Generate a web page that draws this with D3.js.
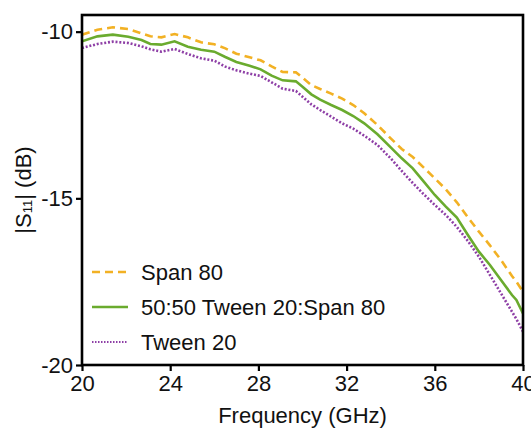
<!DOCTYPE html>
<html>
<head>
<meta charset="utf-8">
<script src="https://cdn.jsdelivr.net/npm/d3@7"></script>
<style>
  body { margin: 0; background: #fff; }
  svg { font-family: "Liberation Sans", Arial, sans-serif; }
</style>
</head>
<body>
<div id="chart"></div>
<script>
// frequency points (GHz)
const freq = [20, 20.7, 21.4, 22.1, 22.7, 23.1, 23.6, 24.2, 24.8, 25.4, 26.0, 26.5, 27.0, 27.6, 28.1, 28.6, 29.1, 29.7, 30.0, 30.4,
  30.8, 31.3, 31.8, 32.3, 32.8, 33.4, 34.0, 34.5, 35.0, 35.5, 36.0, 36.5, 37.0, 37.5, 38.0, 38.5, 39.0, 39.5, 39.7, 40];

// |S11| in dB
const span80 = [-10.09, -9.94, -9.87, -9.92, -10.05, -10.14, -10.17, -10.07, -10.17, -10.32, -10.38, -10.5, -10.66, -10.77, -10.86, -11.04, -11.21, -11.22, -11.38, -11.6,
  -11.72, -11.86, -12.01, -12.2, -12.45, -12.8, -13.2, -13.52, -13.76, -14.08, -14.4, -14.73, -15.12, -15.57, -16.0, -16.41, -16.85, -17.33, -17.5, -17.8];
const mix5050 = [-10.29, -10.14, -10.09, -10.15, -10.25, -10.37, -10.39, -10.29, -10.45, -10.54, -10.6, -10.76, -10.91, -11.02, -11.13, -11.32, -11.46, -11.49, -11.65, -11.88,
  -12.04, -12.2, -12.35, -12.53, -12.75, -13.08, -13.47, -13.8, -14.1, -14.5, -14.9, -15.25, -15.58, -16.1, -16.6, -17.0, -17.45, -17.9, -18.05, -18.45];
const tween20 = [-10.49, -10.37, -10.3, -10.34, -10.44, -10.53, -10.6, -10.52, -10.67, -10.8, -10.87, -11.05, -11.16, -11.26, -11.33, -11.52, -11.71, -11.78, -11.95, -12.18,
  -12.35, -12.55, -12.75, -12.91, -13.12, -13.4, -13.8, -14.18, -14.54, -14.88, -15.2, -15.5, -15.86, -16.28, -16.75, -17.3, -17.85, -18.4, -18.62, -19.0];

const seriesNames = ['Span 80', '50:50 Tween 20:Span 80', 'Tween 20'];
const seriesColors = ['#F2B124', '#6AAB2E', '#8E3FA6'];
const seriesDash = ['8,5', null, '2,1.8'];
const xTicks = [20, 24, 28, 32, 36, 40];
const yTicks = [-20, -15, -10];

var width = 531, height = 428;
var margin = {top: 15, right: 8, bottom: 63, left: 82};
var w = width - margin.left - margin.right;
var h = height - margin.top - margin.bottom;

var svg = d3.select('#chart').append('svg')
  .attr('width', width)
  .attr('height', height);
var g = svg.append('g')
  .attr('transform', 'translate(' + margin.left + ',' + margin.top + ')');

var x = d3.scaleLinear().domain([20, 40]).range([0, w]);
var y = d3.scaleLinear().domain([-20, -9.5]).range([h, 0]);

var data = [span80, mix5050, tween20];
var line = d3.line()
  .x(function(d, i) { return x(freq[i]); })
  .y(function(d) { return y(d); });

g.append('defs').append('clipPath').attr('id', 'clip')
  .append('rect').attr('width', w).attr('height', h);

data.forEach(function(s, k) {
  g.append('path')
    .datum(s)
    .attr('clip-path', 'url(#clip)')
    .attr('fill', 'none')
    .attr('stroke', seriesColors[k])
    .attr('stroke-width', 2.6)
    .attr('stroke-dasharray', seriesDash[k])
    .attr('d', line);
});

// axes (plain hyphen for negatives, like the original)
var fmt = function(d) { return String(d); };
var xAxis = g.append('g')
  .attr('transform', 'translate(0,' + h + ')')
  .call(d3.axisBottom(x).tickValues(xTicks).tickFormat(fmt).tickSize(6).tickPadding(4));
var yAxis = g.append('g')
  .call(d3.axisLeft(y).tickValues(yTicks).tickFormat(fmt).tickSize(6).tickPadding(3));
[xAxis, yAxis].forEach(function(a) {
  a.select('.domain').remove();
  a.selectAll('.tick line').attr('stroke', '#000').attr('stroke-width', 2.2);
  a.selectAll('.tick text').attr('fill', '#111').style('font-size', '22px');
});

// frame
g.append('rect')
  .attr('width', w).attr('height', h)
  .attr('fill', 'none')
  .attr('stroke', '#000')
  .attr('stroke-width', 2.6);

// axis titles
svg.append('text')
  .attr('x', margin.left + w / 2)
  .attr('y', 423)
  .attr('text-anchor', 'middle')
  .style('font-size', '22px')
  .attr('fill', '#111')
  .text('Frequency (GHz)');

var yt = svg.append('text')
  .attr('transform', 'translate(31,' + (margin.top + h / 2) + ') rotate(-90)')
  .attr('text-anchor', 'middle')
  .style('font-size', '22px')
  .attr('fill', '#111');
yt.append('tspan').text('|S');
yt.append('tspan').style('font-size', '13px').attr('dy', 1).text('11');
yt.append('tspan').attr('dy', -1).text('| (dB)');

// legend
var legend = g.append('g').attr('transform', 'translate(10,257)');
seriesNames.forEach(function(name, k) {
  var row = legend.append('g').attr('transform', 'translate(0,' + (k * 35) + ')');
  row.append('line')
    .attr('x1', 0).attr('x2', 36)
    .attr('stroke', seriesColors[k])
    .attr('stroke-width', k == 2 ? 2 : 2.6)
    .attr('stroke-dasharray', k == 2 ? '1.5,1.5' : seriesDash[k]);
  row.append('text')
    .attr('x', 49).attr('y', 8)
    .style('font-size', '22px')
    .attr('fill', '#111')
    .text(name);
});
</script>
</body>
</html>
